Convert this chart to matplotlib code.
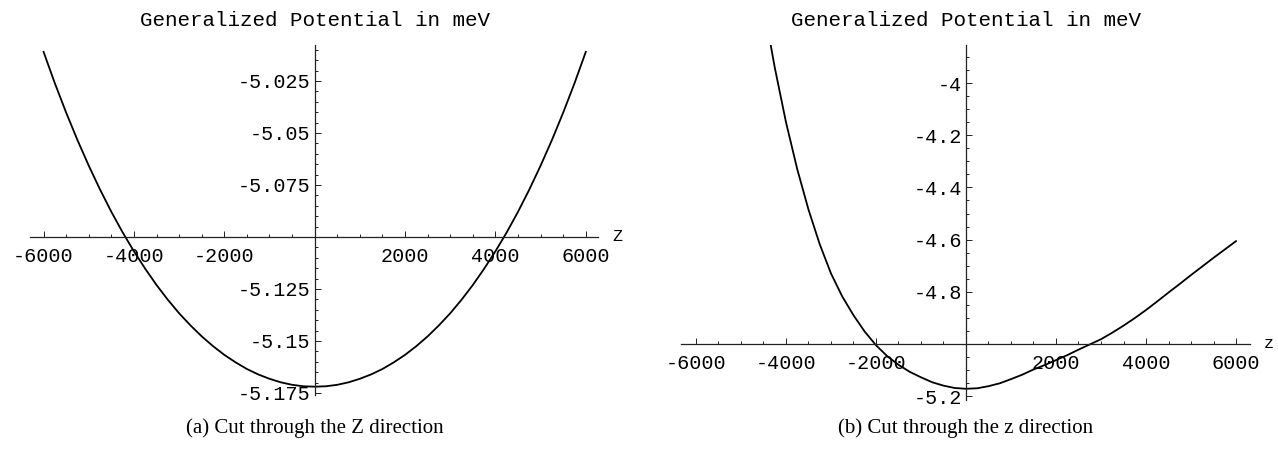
import numpy as np
import matplotlib
matplotlib.use("Agg")
import matplotlib.pyplot as plt
import matplotlib.transforms as mtransforms
from matplotlib.ticker import FixedLocator, MultipleLocator

plt.rcParams["axes.unicode_minus"] = False

MONO = "Liberation Mono"
SERIF = "Liberation Serif"

# cut (a): potential along Z (meV), sampled every 250
z_a = [-6000, -5750, -5500, -5250, -5000, -4750, -4500, -4250, -4000, -3750, -3500, -3250,
       -3000, -2750, -2500, -2250, -2000, -1750, -1500, -1250, -1000, -750, -500, -250,
       0, 250, 500, 750, 1000, 1250, 1500, 1750, 2000, 2250, 2500, 2750,
       3000, 3250, 3500, 3750, 4000, 4250, 4500, 4750, 5000, 5250, 5500, 5750, 6000]
v_a = [-5.0110, -5.0261, -5.0402, -5.0534, -5.0657, -5.0772, -5.0879, -5.0978, -5.1069,
       -5.1153, -5.1231, -5.1302, -5.1367, -5.1425, -5.1478, -5.1525, -5.1567, -5.1603,
       -5.1635, -5.1661, -5.1682, -5.1699, -5.1711, -5.1718, -5.1720, -5.1718, -5.1711,
       -5.1699, -5.1682, -5.1661, -5.1635, -5.1603, -5.1567, -5.1525, -5.1478, -5.1425,
       -5.1367, -5.1302, -5.1231, -5.1153, -5.1069, -5.0978, -5.0879, -5.0772, -5.0657,
       -5.0534, -5.0402, -5.0261, -5.0110]

# cut (b): potential along z (meV), sampled every 250
z_b = [-4500, -4250, -4000, -3750, -3500, -3250, -3000, -2750, -2500, -2250, -2000,
       -1750, -1500, -1250, -1000, -750, -500, -250, 0, 250, 500, 750, 1000, 1250,
       1500, 1750, 2000, 2250, 2500, 2750, 3000, 3250, 3500, 3750, 4000, 4250,
       4500, 4750, 5000, 5250, 5500, 5750, 6000]
v_b = [-3.700, -3.940, -4.150, -4.330, -4.485, -4.618, -4.730, -4.818, -4.890, -4.953,
       -5.005, -5.047, -5.080, -5.107, -5.128, -5.147, -5.160, -5.169, -5.172, -5.170,
       -5.162, -5.151, -5.135, -5.118, -5.098, -5.081, -5.062, -5.043, -5.022, -5.002,
       -4.982, -4.957, -4.930, -4.901, -4.870, -4.837, -4.803, -4.770, -4.736, -4.703,
       -4.670, -4.638, -4.606]

xticks = [-6000, -4000, -2000, 2000, 4000, 6000]
xtick_labels = ["-6000", "-4000", "-2000", "2000", "4000", "6000"]

yticks_a = [-5.025, -5.05, -5.075, -5.125, -5.15, -5.175]
ytick_labels_a = ["-5.025", "-5.05", "-5.075", "-5.125", "-5.15", "-5.175"]
yticks_b = [-4.0, -4.2, -4.4, -4.6, -4.8, -5.2]
ytick_labels_b = ["-4", "-4.2", "-4.4", "-4.6", "-4.8", "-5.2"]

title = "Generalized Potential in meV"
captions = ["(a) Cut through the Z direction", "(b) Cut through the z direction"]
axis_names = ["Z", "z"]

W, H = 1278, 458
fig = plt.figure(figsize=(W / 100, H / 100), dpi=100)


def px_axes(x0, x1, ytop, ybot):
    return fig.add_axes([x0 / W, 1 - ybot / H, (x1 - x0) / W, (ybot - ytop) / H])


def style_axes(ax, ycross, yticks, ylabels, yminor):
    for s in ("top", "right"):
        ax.spines[s].set_visible(False)
    ax.spines["left"].set_position(("data", 0))
    ax.spines["bottom"].set_position(("data", ycross))
    for s in ("left", "bottom"):
        ax.spines[s].set_linewidth(0.9)
        ax.spines[s].set_color("#222222")
    ax.xaxis.set_major_locator(FixedLocator(xticks))
    ax.set_xticklabels(xtick_labels, family=MONO, fontsize=14.5)
    ax.xaxis.set_minor_locator(MultipleLocator(500))
    ax.yaxis.set_major_locator(FixedLocator(yticks))
    ax.set_yticklabels(ylabels, family=MONO, fontsize=14.5)
    ax.yaxis.set_minor_locator(MultipleLocator(yminor))
    ax.tick_params(which="both", direction="in", color="#222222", width=0.7)
    ax.tick_params(which="major", length=4)
    ax.tick_params(which="minor", length=2)
    ax.tick_params(axis="x", which="major", pad=7)
    ax.tick_params(axis="y", which="major", pad=3)
    ax.patch.set_visible(False)


ax_a = px_axes(30, 598, 45, 395)
ax_a.plot(z_a, v_a, color="black", lw=1.3, solid_joinstyle="round")
ax_a.set_xlim(-6300, 6270)
ax_a.set_ylim(-5.176, -5.0077)
style_axes(ax_a, -5.1, yticks_a, ytick_labels_a, 0.005)

ax_b = px_axes(681, 1250, 45, 400)
ax_b.plot(z_b, v_b, color="black", lw=1.3, solid_joinstyle="round")
ax_b.set_xlim(-6333, 6311)
ax_b.set_ylim(-5.215, -3.854)
style_axes(ax_b, -5.0, yticks_b, ytick_labels_b, 0.05)

for ax, ycross, name, cap in [(ax_a, -5.1, axis_names[0], captions[0]),
                              (ax_b, -5.0, axis_names[1], captions[1])]:
    tr = mtransforms.blended_transform_factory(ax.transAxes, ax.transData)
    ax.text(1.025, ycross, name, transform=tr, family=MONO, fontsize=12,
            ha="left", va="center")
    bb = ax.get_position()
    xc = bb.x0 + bb.width * (0 - ax.get_xlim()[0]) / (ax.get_xlim()[1] - ax.get_xlim()[0])
    fig.text(xc, 1 - 20 / H, title, family=MONO, fontsize=15, ha="center", va="center")
    fig.text(xc, 1 - 428 / H, cap, family=SERIF, fontsize=15, ha="center", va="center")

fig.savefig("out.png", dpi=100)
